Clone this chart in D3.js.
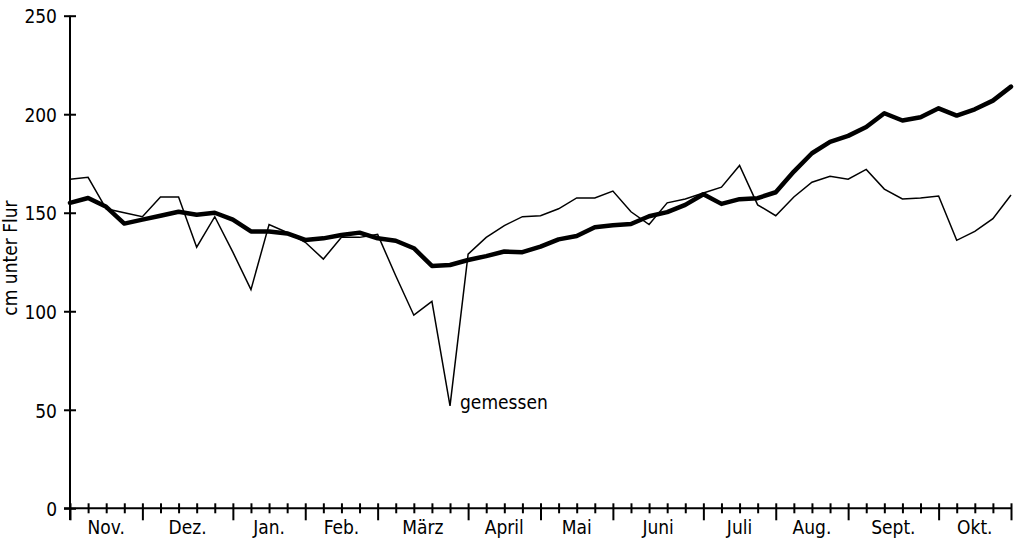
<!DOCTYPE html>
<html>
<head>
<meta charset="utf-8">
<title>Grundwasserstand</title>
<script src="https://cdn.jsdelivr.net/npm/d3@7/dist/d3.min.js"></script>
<style>
  body { margin: 0; background: #fff; }
  text { font-family: "DejaVu Sans Condensed", "DejaVu Sans", sans-serif; font-stretch: condensed; fill: #000; }
</style>
</head>
<body>
<div id="chart"></div>
<script>
// months of the hydrological year and how many weeks each one has
var months = ["Nov.", "Dez.", "Jan.", "Feb.", "März", "April", "Mai", "Juni", "Juli", "Aug.", "Sept.", "Okt."];
var monthWeeks = [4, 5, 4, 4, 5, 4, 4, 5, 4, 4, 5, 4];

// weekly values, cm unter Flur (thin line = gemessen)
var gemessen = [167, 168, 152, 150, 148, 158, 158, 132.5, 148, 130,
                111, 144, 140, 135, 126.5, 137.5, 137.5, 139, 118, 98,
                105, 52, 129, 137.5, 143.5, 148, 148.5, 152, 157.5, 157.5,
                161, 150.5, 144, 155, 157, 160, 163, 174, 154, 148.5,
                158, 165.5, 168.5, 167, 172, 162, 157, 157.5, 158.5, 136,
                140.5, 147, 159];

// thick line
var berechnet = [155, 157.5, 153, 144.5, 146.5, 148.5, 150.5, 149, 150, 146.5,
                 140.5, 140.5, 139.5, 136.2, 137, 138.7, 139.9, 137, 135.8, 132,
                 123, 123.5, 126, 128, 130.3, 130, 132.8, 136.5, 138.2, 142.6,
                 143.6, 144.3, 148.2, 150.3, 154, 159.4, 154.5, 156.9, 157.4, 160.4,
                 170.9, 180.2, 186, 189, 193.5, 200.5, 196.8, 198.5, 203, 199.3,
                 202.5, 206.9, 214];

var yTicks = [0, 50, 100, 150, 200, 250];

var width = 1021, height = 539;
var nWeeks = d3.sum(monthWeeks);

var svg = d3.select("#chart").append("svg")
    .attr("width", width)
    .attr("height", height);

// scales
var x = d3.scaleLinear().domain([0, nWeeks]).range([70, 1011]);
var y = d3.scaleLinear().domain([0, 250]).range([508.3, 15.7]);

// month boundaries (in weeks)
var bounds = [0];
monthWeeks.forEach(function(w, i) { bounds.push(bounds[i] + w); });

// y axis
var yAxis = svg.append("g")
    .attr("transform", "translate(" + x(0) + ",0)")
    .call(d3.axisLeft(y).tickValues(yTicks).tickSize(0).tickPadding(13));
yAxis.select(".domain").remove();
yAxis.append("line")
    .attr("y1", y(250)).attr("y2", 520)
    .attr("stroke", "#000").attr("stroke-width", 2);
yAxis.selectAll(".tick").append("line")
    .attr("x1", -6).attr("x2", 6)
    .attr("stroke", "#000").attr("stroke-width", 2);
yAxis.selectAll(".tick text")
    .attr("font-size", 19)
    .attr("dy", "0.38em");

// x axis, one tick per week, longer ones at month ends
var xAxis = svg.append("g")
    .attr("transform", "translate(0," + y(0) + ")")
    .call(d3.axisBottom(x).tickValues(d3.range(nWeeks + 1)).tickSize(0).tickFormat(""));
xAxis.select(".domain").remove();
xAxis.append("line")
    .attr("x1", 64).attr("x2", x(nWeeks))
    .attr("stroke", "#000").attr("stroke-width", 2);
xAxis.selectAll(".tick").append("line")
    .attr("y1", -5)
    .attr("y2", function(d) { return bounds.indexOf(d) >= 0 ? 12 : 5; })
    .attr("stroke", "#000").attr("stroke-width", 2);

// month labels centred in their interval
svg.append("g").selectAll("text")
    .data(months)
  .enter().append("text")
    .attr("x", function(d, i) { return x((bounds[i] + bounds[i + 1]) / 2); })
    .attr("y", 534)
    .attr("text-anchor", "middle")
    .attr("font-size", 19)
    .text(function(d) { return d; });

// axis title
svg.append("text")
    .attr("transform", "translate(17,258) rotate(-90)")
    .attr("text-anchor", "middle")
    .attr("font-size", 19)
    .text("cm unter Flur");

var line = d3.line()
    .x(function(d, i) { return x(i); })
    .y(function(d) { return y(d); });

svg.append("path")
    .datum(gemessen)
    .attr("d", line)
    .attr("fill", "none")
    .attr("stroke", "#000")
    .attr("stroke-width", 1.5)
    .attr("stroke-linejoin", "miter");

svg.append("path")
    .datum(berechnet)
    .attr("d", line)
    .attr("fill", "none")
    .attr("stroke", "#000")
    .attr("stroke-width", 4.5)
    .attr("stroke-linejoin", "round")
    .attr("stroke-linecap", "round");

// label at the lowest measured value
var iMin = gemessen.indexOf(d3.min(gemessen));
svg.append("text")
    .attr("x", x(iMin) + 10)
    .attr("y", y(gemessen[iMin]) + 3)
    .attr("font-size", 19)
    .text("gemessen");
</script>
</body>
</html>
